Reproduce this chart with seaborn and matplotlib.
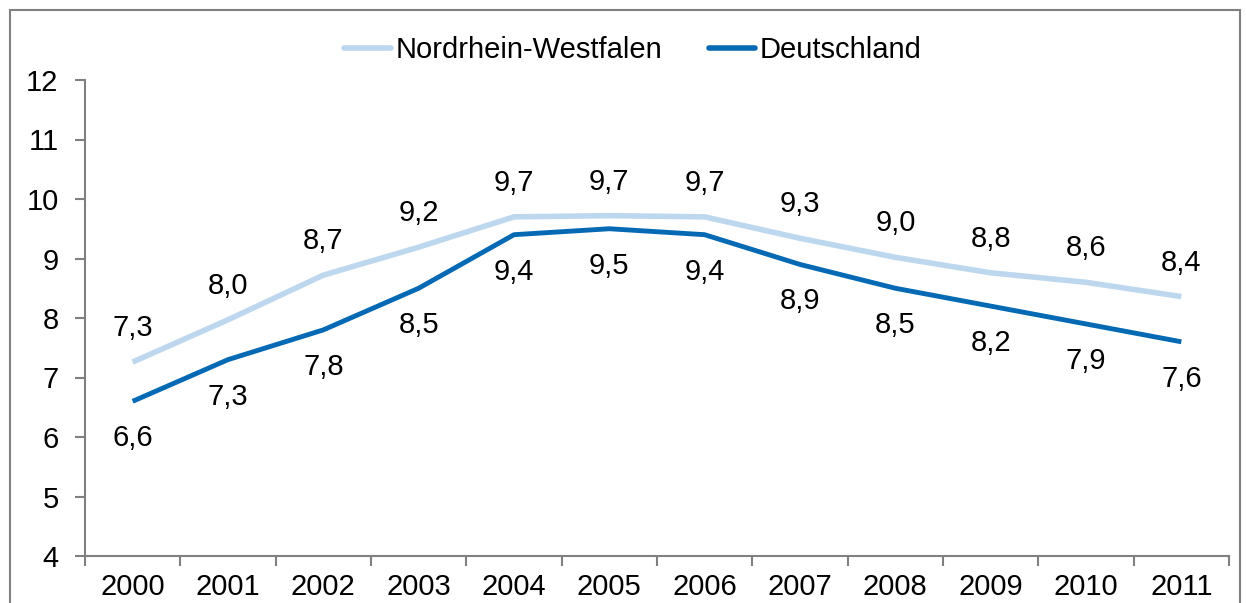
import matplotlib
matplotlib.use("Agg")
import matplotlib.pyplot as plt
import matplotlib.patches as mpatches
import seaborn as sns
import pandas as pd
import numpy as np

years = ['2000', '2001', '2002', '2003', '2004', '2005', '2006', '2007', '2008', '2009', '2010', '2011']
nrw = [7.26, 7.97, 8.72, 9.19, 9.70, 9.72, 9.70, 9.34, 9.02, 8.76, 8.60, 8.36]
de = [6.6, 7.3, 7.8, 8.5, 9.4, 9.5, 9.4, 8.9, 8.5, 8.2, 7.9, 7.6]
nrw_labels = ['7,3', '8,0', '8,7', '9,2', '9,7', '9,7', '9,7', '9,3', '9,0', '8,8', '8,6', '8,4']
de_labels = ['6,6', '7,3', '7,8', '8,5', '9,4', '9,5', '9,4', '8,9', '8,5', '8,2', '7,9', '7,6']

sns.set_style("white")
plt.rcParams['font.family'] = ['Liberation Sans', 'DejaVu Sans']
plt.rcParams['text.color'] = 'black'
plt.rcParams['xtick.color'] = 'black'
plt.rcParams['ytick.color'] = 'black'

fs = 21

df = pd.DataFrame({
    'pos': list(range(len(years))) * 2,
    'wert': nrw + de,
    'reihe': ['Nordrhein-Westfalen'] * len(years) + ['Deutschland'] * len(years),
})

colors = {'Nordrhein-Westfalen': '#BDD7EE', 'Deutschland': '#0569B4'}

fig = plt.figure(figsize=(12.46, 6.03), dpi=100)
ax = fig.add_axes([85 / 1246, 1 - 556 / 603, (1229 - 85) / 1246, (556 - 80) / 603])

sns.lineplot(data=df, x='pos', y='wert', hue='reihe', palette=colors, ax=ax,
             linewidth=3.5, legend=False)
for line in ax.get_lines():
    line.set_solid_capstyle('butt')
ax.get_lines()[0].set_linewidth(4)

for i in range(len(years)):
    ax.annotate(nrw_labels[i], (i, nrw[i]), xytext=(0, 34), textcoords='offset pixels',
                ha='center', va='center', fontsize=fs, color='black')
    ax.annotate(de_labels[i], (i, de[i]), xytext=(0, -37), textcoords='offset pixels',
                ha='center', va='center', fontsize=fs, color='black')

ax.set_xlim(-0.5, len(years) - 0.5)
ax.set_ylim(4, 12)
ax.set_yticks(range(4, 13))
ax.set_xticks(range(len(years)))
ax.set_xticklabels(years)
ax.set_xticks(np.arange(-0.5, len(years)), minor=True)
ax.tick_params(axis='x', which='major', bottom=False, length=0, labelsize=fs, pad=12,
               labelcolor='black')
ax.tick_params(axis='x', which='minor', bottom=True, length=7, width=1.5, color='#808080',
               direction='out')
ax.tick_params(axis='y', left=True, labelsize=fs, length=7, width=1.5, color='#808080',
               direction='out', pad=12, labelcolor='black')
ax.set_xlabel('')
ax.set_ylabel('')
for side in ['top', 'right']:
    ax.spines[side].set_visible(False)
for side in ['left', 'bottom']:
    ax.spines[side].set_color('#808080')
    ax.spines[side].set_linewidth(1.5)

handles = [plt.Line2D([], [], color=colors[k], linewidth=4, solid_capstyle='round') for k in colors]
fig.legend(handles, list(colors.keys()), loc='center', bbox_to_anchor=(0.508, 1 - 50 / 603),
           ncol=2, frameon=False, fontsize=fs, handlelength=1.6, handletextpad=0.15,
           columnspacing=1.6)

fig.patches.append(mpatches.Rectangle((10 / 1246, -0.05), (1240 - 10) / 1246, 1.05 - 10 / 603,
                                      transform=fig.transFigure, fill=False,
                                      edgecolor='#808080', linewidth=1.5))

fig.savefig('out.png', dpi=100)
